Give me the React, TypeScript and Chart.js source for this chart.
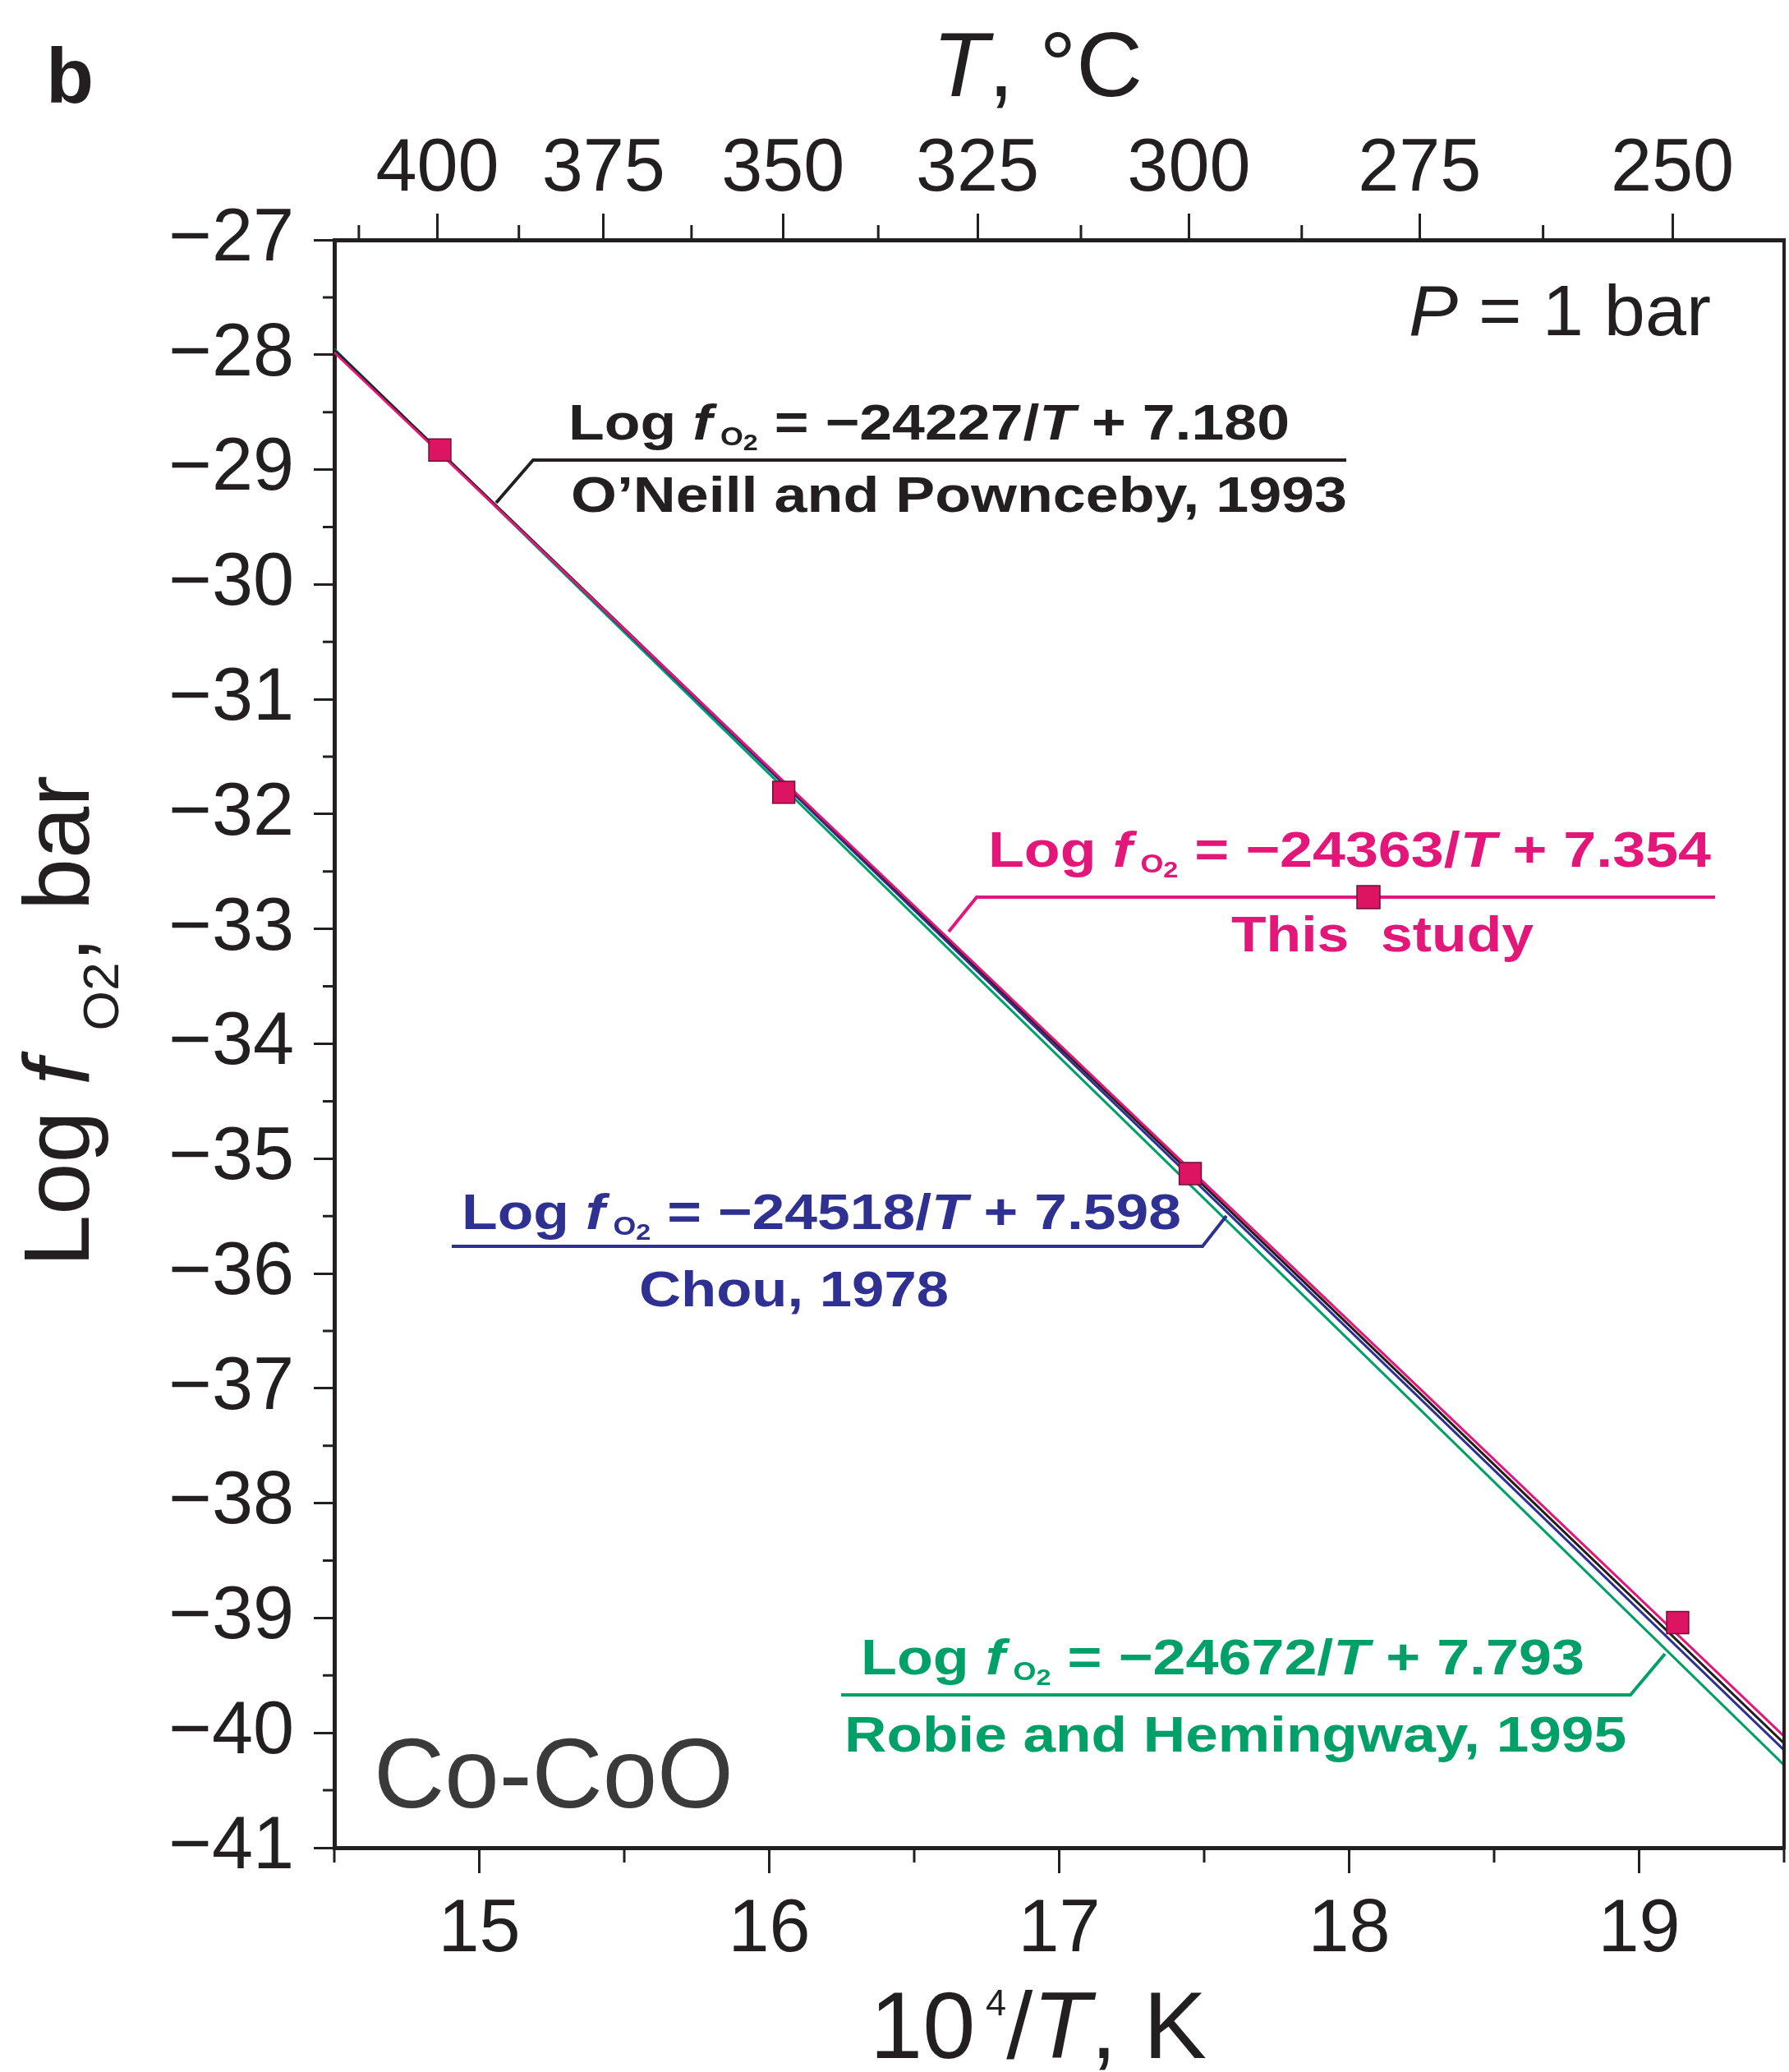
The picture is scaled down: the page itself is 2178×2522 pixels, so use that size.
import React, { useEffect, useRef } from 'react';
import { Chart, registerables } from 'chart.js';

Chart.register(...registerables);

// ---------------- data ----------------
const xMajorTicks = [15, 16, 17, 18, 19];
const xMinorTicks = [14.5, 15.5, 16.5, 17.5, 18.5, 19.5];
const yMajorTicks = [-41, -40, -39, -38, -37, -36, -35, -34, -33, -32, -31, -30, -29, -28, -27];
const yMinorTicks = [-40.5, -39.5, -38.5, -37.5, -36.5, -35.5, -34.5, -33.5, -32.5, -31.5, -30.5, -29.5, -28.5, -27.5];
const celsiusTicks = [400, 375, 350, 325, 300, 275, 250];
const celsiusMinorTicks = [412.5, 387.5, 362.5, 337.5, 312.5, 287.5, 262.5];

const lineX = [14.5, 19.5];
const oneillY = [-27.96, -40.09];
const thisStudyY = [-27.98, -40.03];
const chouY = [-27.96, -40.15];
const robieY = [-27.95, -40.28];

const pointX = [14.864, 16.05, 17.452, 19.133];
const pointY = [-28.83, -31.81, -35.13, -39.04];

// ---------------- styles ----------------
const W = 2178;
const H = 2522;
const FONT = '"Liberation Sans", Arial, Helvetica, sans-serif';
const INK = '#231F20';
const MAGENTA = '#E3177A';
const INDIGO = '#2E3192';
const GREEN = '#00A068';
const SQ_FILL = '#DC1462';
const SQ_EDGE = '#6E1038';

const toC = (c: number) => 10000 / (c + 273.15);

type Seg = { t: string; size: number; bold?: boolean; italic?: boolean; dy?: number };

function drawRich(
  ctx: CanvasRenderingContext2D,
  segs: Seg[],
  x: number,
  y: number,
  targetW: number,
  color: string,
  rotate = false
) {
  ctx.save();
  ctx.fillStyle = color;
  ctx.textBaseline = 'alphabetic';
  ctx.textAlign = 'left';
  const fontOf = (s: Seg) => `${s.italic ? 'italic ' : ''}${s.bold ? 'bold ' : ''}${s.size}px ${FONT}`;
  let total = 0;
  const widths = segs.map((s) => {
    ctx.font = fontOf(s);
    const w = ctx.measureText(s.t).width;
    total += w;
    return w;
  });
  const k = targetW ? targetW / total : 1;
  ctx.translate(x, y);
  if (rotate) ctx.rotate(-Math.PI / 2);
  ctx.scale(k, 1);
  let cx = 0;
  segs.forEach((s, i) => {
    ctx.font = fontOf(s);
    ctx.fillText(s.t, cx, s.dy || 0);
    cx += widths[i];
  });
  ctx.restore();
}

const eqSegs = (num: string, c: string): Seg[] => [
  { t: 'Log ', size: 62, bold: true },
  { t: 'f', size: 62, bold: true, italic: true },
  { t: ' O', size: 31, bold: true, dy: 7 },
  { t: '2', size: 28, bold: true, dy: 13 },
  { t: ' = \u2212' + num + '/', size: 62, bold: true },
  { t: 'T', size: 62, bold: true, italic: true },
  { t: ' + ' + c, size: 62, bold: true },
];

type Ann = {
  color: string;
  eq: Seg[];
  ref: string;
  eqX: number; eqY: number; eqW: number;
  refX: number; refY: number; refW: number;
  line: number[][];
  marker?: number[];
};

const annotations: Ann[] = [
  {
    color: INK,
    eq: eqSegs('24227', '7.180'),
    ref: 'O\u2019Neill and Pownceby, 1993',
    eqX: 692, eqY: 535, eqW: 878,
    refX: 695, refY: 623, refW: 945,
    line: [[1639, 560], [649, 560], [604, 612]],
  },
  {
    color: MAGENTA,
    eq: eqSegs('24363', '7.354'),
    ref: 'This  study',
    eqX: 1203, eqY: 1055, eqW: 880,
    refX: 1499, refY: 1158, refW: 368,
    line: [[2088, 1092], [1189, 1092], [1155, 1134]],
    marker: [1666, 1092],
  },
  {
    color: INDIGO,
    eq: eqSegs('24518', '7.598'),
    ref: 'Chou, 1978',
    eqX: 562, eqY: 1496, eqW: 876,
    refX: 778, refY: 1590, refW: 377,
    line: [[550, 1517], [1464, 1517], [1493, 1480]],
  },
  {
    color: GREEN,
    eq: eqSegs('24672', '7.793'),
    ref: 'Robie and Hemingway, 1995',
    eqX: 1048, eqY: 2038, eqW: 881,
    refX: 1028, refY: 2132, refW: 952,
    line: [[1024, 2063], [1985, 2063], [2027, 2013]],
  },
];

const bgPlugin = {
  id: 'bg',
  beforeDraw(chart: any) {
    const ctx = chart.ctx;
    ctx.save();
    ctx.fillStyle = '#ffffff';
    ctx.fillRect(0, 0, chart.width, chart.height);
    ctx.restore();
  },
};

const decorPlugin = {
  id: 'decor',
  afterDraw(chart: any) {
    const ctx: CanvasRenderingContext2D = chart.ctx;
    const { left, right, top, bottom } = chart.chartArea;
    const xs = chart.scales.x;
    const ys = chart.scales.y;
    ctx.save();
    ctx.strokeStyle = INK;
    ctx.lineWidth = 3;
    // minor ticks
    ctx.beginPath();
    yMinorTicks.forEach((v) => {
      const p = ys.getPixelForValue(v);
      ctx.moveTo(left - 14, p);
      ctx.lineTo(left, p);
    });
    xMinorTicks.forEach((v) => {
      const p = xs.getPixelForValue(v);
      ctx.moveTo(p, bottom);
      ctx.lineTo(p, bottom + 18);
    });
    celsiusMinorTicks.forEach((c) => {
      const v = toC(c);
      if (v < 14.5 || v > 19.5) return;
      const p = xs.getPixelForValue(v);
      ctx.moveTo(p, top);
      ctx.lineTo(p, top - 18);
    });
    ctx.stroke();
    // right frame
    ctx.lineWidth = 4;
    ctx.beginPath();
    ctx.moveTo(right, top - 2);
    ctx.lineTo(right, bottom + 2);
    ctx.stroke();
    ctx.restore();

    // annotations
    annotations.forEach((a) => {
      ctx.save();
      ctx.strokeStyle = a.color;
      ctx.lineWidth = 4;
      ctx.lineJoin = 'miter';
      ctx.beginPath();
      a.line.forEach((p, i) => (i === 0 ? ctx.moveTo(p[0], p[1]) : ctx.lineTo(p[0], p[1])));
      ctx.stroke();
      ctx.restore();
      drawRich(ctx, a.eq, a.eqX, a.eqY, a.eqW, a.color);
      drawRich(ctx, [{ t: a.ref, size: 62, bold: true }], a.refX, a.refY, a.refW, a.color);
      if (a.marker) {
        const s = 28;
        ctx.save();
        ctx.fillStyle = SQ_FILL;
        ctx.strokeStyle = SQ_EDGE;
        ctx.lineWidth = 1.5;
        ctx.fillRect(a.marker[0] - s / 2, a.marker[1] - s / 2, s, s);
        ctx.strokeRect(a.marker[0] - s / 2, a.marker[1] - s / 2, s, s);
        ctx.restore();
      }
    });

    // titles and labels
    drawRich(ctx, [{ t: 'b', size: 95, bold: true }], 56, 125, 0, INK);
    drawRich(
      ctx,
      [
        { t: 'T', size: 112, italic: true },
        { t: ', \u00B0C', size: 112 },
      ],
      1135, 117, 256, INK
    );
    drawRich(
      ctx,
      [
        { t: '10', size: 115 },
        { t: ' 4', size: 45, dy: -52 },
        { t: '/', size: 115 },
        { t: 'T', size: 115, italic: true },
        { t: ', K', size: 115 },
      ],
      1059, 2505, 410, INK
    );
    drawRich(
      ctx,
      [
        { t: 'Log ', size: 113 },
        { t: 'f', size: 113, italic: true },
        { t: '  O2', size: 62, dy: 36 },
        { t: ', bar', size: 113 },
      ],
      108, 1542, 598, INK, true
    );
    drawRich(
      ctx,
      [
        { t: 'P', size: 88, italic: true },
        { t: ' = 1 bar', size: 88 },
      ],
      1715, 408, 368, INK
    );
    drawRich(ctx, [{ t: 'Co-CoO', size: 120 }], 455, 2200, 438, '#3A3A3A');
  },
};

const tickFont = { family: FONT, size: 90, lineHeight: 1 };

const zeroPad = (s: any) => {
  s.paddingLeft = 0;
  s.paddingRight = 0;
  s.paddingTop = 0;
  s.paddingBottom = 0;
};

export default function App() {
  const ref = useRef<HTMLCanvasElement>(null);
  useEffect(() => {
    const lineDs = (label: string, ys: number[], color: string) => ({
      label,
      data: lineX.map((x, i) => ({ x, y: ys[i] })),
      showLine: true,
      borderColor: color,
      backgroundColor: color,
      borderWidth: 3,
      pointRadius: 0,
      xAxisID: 'x',
      yAxisID: 'y',
    });
    const chart = new Chart(ref.current as HTMLCanvasElement, {
      type: 'scatter',
      data: {
        datasets: [
          {
            label: 'This study (data)',
            data: pointX.map((x, i) => ({ x, y: pointY[i] })),
            showLine: false,
            pointStyle: 'rect',
            pointRadius: 19,
            backgroundColor: SQ_FILL,
            borderColor: SQ_EDGE,
            borderWidth: 1.5,
            xAxisID: 'x',
            yAxisID: 'y',
          } as any,
          lineDs('This study', thisStudyY, MAGENTA),
          lineDs("O'Neill and Pownceby, 1993", oneillY, INK),
          lineDs('Chou, 1978', chouY, INDIGO),
          lineDs('Robie and Hemingway, 1995', robieY, GREEN),
        ],
      },
      options: {
        responsive: false,
        devicePixelRatio: 1,
        animation: false,
        events: [],
        layout: { autoPadding: false, padding: { left: 0, right: 6, top: 0, bottom: 0 } },
        plugins: { legend: { display: false }, tooltip: { enabled: false } },
        scales: {
          x: {
            type: 'linear',
            position: 'bottom',
            min: 14.5,
            max: 19.5,
            afterBuildTicks: (s: any) => {
              s.ticks = xMajorTicks.map((v) => ({ value: v }));
            },
            afterFit: (s: any) => {
              s.height = H - 2249;
              zeroPad(s);
            },
            ticks: {
              autoSkip: false,
              maxRotation: 0,
              padding: 25,
              color: INK,
              font: tickFont,
              callback: (v: any) => String(v),
            },
            grid: { drawOnChartArea: false, drawTicks: true, tickLength: 31, tickWidth: 3, tickColor: INK },
            border: { display: true, width: 5, color: INK },
          },
          x2: {
            type: 'linear',
            position: 'top',
            min: 14.5,
            max: 19.5,
            afterBuildTicks: (s: any) => {
              s.ticks = celsiusTicks.map((c) => ({ value: toC(c) }));
            },
            afterFit: (s: any) => {
              s.height = 292;
              zeroPad(s);
            },
            ticks: {
              autoSkip: false,
              maxRotation: 0,
              padding: 8,
              color: INK,
              font: tickFont,
              callback: (_v: any, i: number) => String(celsiusTicks[i]),
            },
            grid: { drawOnChartArea: false, drawTicks: true, tickLength: 32, tickWidth: 3, tickColor: INK },
            border: { display: true, width: 5, color: INK },
          },
          y: {
            type: 'linear',
            position: 'left',
            min: -41,
            max: -27,
            afterBuildTicks: (s: any) => {
              s.ticks = yMajorTicks.map((v) => ({ value: v }));
            },
            afterFit: (s: any) => {
              s.width = 407;
              zeroPad(s);
            },
            ticks: {
              autoSkip: false,
              padding: 24,
              color: INK,
              font: tickFont,
              callback: (v: any) => (v < 0 ? '\u2212' : '') + Math.abs(v),
            },
            grid: { drawOnChartArea: false, drawTicks: true, tickLength: 25, tickWidth: 3, tickColor: INK },
            border: { display: true, width: 5, color: INK },
          },
        },
      } as any,
      plugins: [bgPlugin, decorPlugin],
    });
    return () => chart.destroy();
  }, []);
  return (
    <div style={{ position: 'absolute', left: 0, top: 0, width: W, height: H, background: '#fff' }}>
      <canvas ref={ref} width={W} height={H} style={{ width: W, height: H, display: 'block' }} />
    </div>
  );
}
